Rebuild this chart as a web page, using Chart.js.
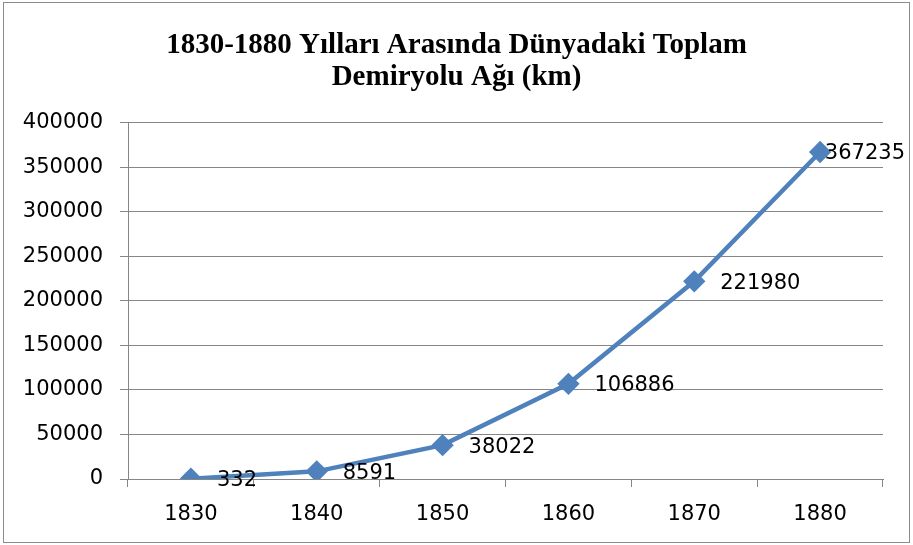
<!DOCTYPE html>
<html>
<head>
<meta charset="utf-8">
<script src="https://cdn.jsdelivr.net/npm/chart.js@4.4.0/dist/chart.umd.min.js"></script>
<style>
  body { margin: 0; background: #fff; }
</style>
</head>
<body>
<canvas id="chart" width="913" height="545"></canvas>
<script>
// yıllar ve demiryolu uzunluğu (km)
const years = ['1830', '1840', '1850', '1860', '1870', '1880'];
const railKm = [332, 8591, 38022, 106886, 221980, 367235];
const titleLines = ['1830-1880 Yılları Arasında Dünyadaki Toplam', 'Demiryolu Ağı (km)'];

const gridColor = '#868686';
const labelFont = '21px "DejaVu Sans"';

// dış çerçeve
const framePlugin = {
  id: 'frame',
  beforeDraw(chart) {
    const c = chart.ctx;
    c.save();
    c.fillStyle = '#fff';
    c.fillRect(0, 0, chart.width, chart.height);
    c.strokeStyle = '#8c8c8c';
    c.lineWidth = 1;
    c.strokeRect(3.5, 2.5, 906, 540);
    c.restore();
  }
};

// nokta etiketleri (sağ tarafta)
const valueLabels = {
  id: 'valueLabels',
  afterDatasetsDraw(chart) {
    const c = chart.ctx;
    const meta = chart.getDatasetMeta(0);
    c.save();
    c.font = labelFont;
    c.fillStyle = '#000';
    c.textBaseline = 'middle';
    meta.data.forEach((pt, i) => {
      const txt = String(railKm[i]);
      const w = c.measureText(txt).width;
      let x = pt.x + 26;
      if (x + w > chart.width - 8) x = chart.width - 8 - w;
      c.fillText(txt, x, pt.y + 2);
    });
    c.restore();
  }
};

new Chart(document.getElementById('chart'), {
  type: 'line',
  data: {
    labels: years,
    datasets: [{
      data: railKm,
      borderColor: '#4F81BD',
      backgroundColor: '#4F81BD',
      borderWidth: 4.5,
      pointStyle: 'rectRot',
      pointRadius: 8,
      pointHoverRadius: 8,
      tension: 0
    }]
  },
  options: {
    responsive: false,
    animation: false,
    layout: { padding: 0 },
    plugins: {
      legend: { display: false },
      tooltip: { enabled: false },
      title: {
        display: true,
        text: titleLines,
        color: '#000',
        font: { family: '"Liberation Serif"', size: 29, weight: 'bold', lineHeight: 1.1 },
        padding: { top: 30, bottom: 29 }
      }
    },
    scales: {
      x: {
        offset: true,
        grid: { offset: true, drawOnChartArea: false, drawTicks: true, tickLength: 8, color: gridColor },
        border: { display: true, color: gridColor },
        ticks: { color: '#000', font: { family: '"DejaVu Sans"', size: 21 }, padding: 15, maxRotation: 0 },
        afterFit(scale) { scale.height = 66; }
      },
      y: {
        min: 0,
        max: 400000,
        grid: { color: gridColor, tickLength: 8 },
        border: { display: true, color: gridColor },
        ticks: {
          stepSize: 50000,
          color: '#000',
          font: { family: '"DejaVu Sans"', size: 21 },
          padding: 17,
          callback: v => String(v)
        },
        afterFit(scale) { scale.width = 128; }
      },
      // sağ kenarda boş alan bırakmak için görünmez eksen
      yPad: {
        position: 'right',
        min: 0,
        max: 400000,
        grid: { display: false },
        border: { display: false },
        ticks: { display: false },
        afterFit(scale) { scale.width = 30; }
      }
    }
  },
  plugins: [framePlugin, valueLabels]
});
</script>
</body>
</html>
